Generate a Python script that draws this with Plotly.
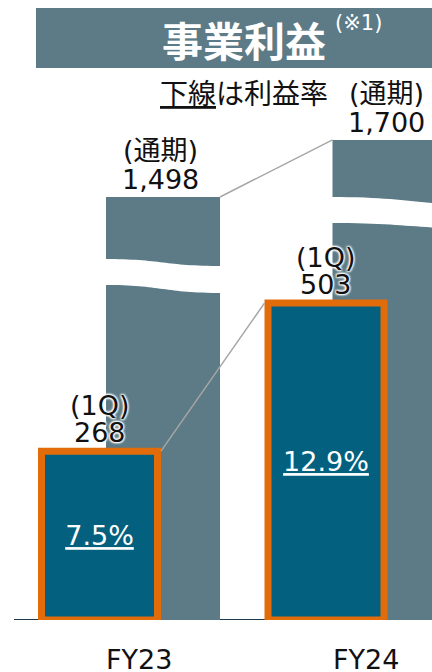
import plotly.graph_objects as go

# ---------------- data ----------------
categories = ["FY23", "FY24"]
q1_profit = [268, 503]          # 1Q business profit
fy_profit = [1498, 1700]        # full-year business profit
q1_margin = [7.5, 12.9]         # profit margin (%)
q1_label = "(1Q)"
fy_label = "(通期)"
title_text = "事業利益"
title_note = "(※1)"
subtitle = "<u>下線</u>は利益率"

# ---------------- styling / layout constants ----------------
W, H = 432, 672
PB = 620                 # pixel y of plot bottom (baseline)
FY_SCALE = 0.2824        # px per unit (full-year axis, broken scale)
Q1_SCALE = 0.63          # px per unit (1Q axis)
X_UNIT = 226.5           # px per category step
X0_PX = 99.5             # px of first category centre

GRAY = "#5C7B86"
TEAL = "#03617F"
ORANGE = "#E36C0A"
CONN = "#A6A6A6"
FONT = "DejaVu Sans, Noto Sans CJK JP"
CJK = "Noto Sans CJK JP"

q1_w = 116 / X_UNIT
fy_w = 114 / X_UNIT
fy_off = 6.5 / X_UNIT

x = list(range(len(categories)))

def py(p):
    return (PB - p) / PB

def fy_units(p):
    return (PB - p) / FY_SCALE

fig = go.Figure()

# full-year bars (background, broken scale)
fig.add_trace(go.Bar(
    x=x, y=fy_profit, width=[fy_w] * 2, offset=[fy_off] * 2,
    marker=dict(color=GRAY, line=dict(width=0)),
    yaxis="y", hoverinfo="skip",
))

# 1Q bars
fig.add_trace(go.Bar(
    x=x, y=q1_profit, width=[q1_w] * 2, offset=[-q1_w / 2] * 2,
    marker=dict(color=TEAL, line=dict(color=ORANGE, width=7)),
    text=[f"<u>{m}%</u>" for m in q1_margin],
    textposition="inside", insidetextanchor="middle", textangle=0,
    textfont=dict(family=FONT, size=27, color="white"),
    yaxis="y2", hoverinfo="skip",
))

shapes = []
# header band
shapes.append(dict(type="rect", xref="paper", yref="paper",
                   x0=36 / W, x1=1.0, y0=py(68), y1=py(8),
                   fillcolor=GRAY, line=dict(width=0), layer="below"))
# baseline
shapes.append(dict(type="line", xref="paper", yref="y",
                   x0=14 / W, x1=1.0, y0=0, y1=0,
                   line=dict(color="#1F3A4E", width=2), layer="below"))
# connectors
shapes.append(dict(type="line", xref="x", yref="y",
                   x0=x[0] + fy_off + fy_w, y0=fy_profit[0],
                   x1=x[1] + fy_off, y1=fy_profit[1],
                   line=dict(color=CONN, width=1.5), layer="above"))
edge = 3.5 / X_UNIT
shapes.append(dict(type="line", xref="x", yref="y2",
                   x0=x[0] + q1_w / 2 + edge, y0=q1_profit[0],
                   x1=x[1] - q1_w / 2 - edge, y1=q1_profit[1],
                   line=dict(color=CONN, width=1.5), layer="above"))

# wavy breaks on full-year bars (top-left, top-right, bottom-left, bottom-right px)
break_px = [(259, 266, 285, 293), (197, 205, 223, 229)]
for i, (tl, tr, bl, br) in enumerate(break_px):
    xl = x[i] + fy_off - 0.01
    xr = x[i] + fy_off + fy_w + (0.01 if i == 0 else 0.2)
    xm = (xl + xr) / 2
    yTL, yTR, yBL, yBR = fy_units(tl), fy_units(tr), fy_units(bl), fy_units(br)
    path = (f"M {xl},{yTL} C {xm},{yTL} {xm},{yTR} {xr},{yTR} "
            f"L {xr},{yBR} C {xm},{yBR} {xm},{yBL} {xl},{yBL} Z")
    shapes.append(dict(type="path", xref="x", yref="y", path=path,
                       fillcolor="white", line=dict(width=0), layer="above"))

ann = []
halo = "1px 1px 2px white, -1px -1px 2px white, 1px -1px 2px white, -1px 1px 2px white"
# full-year labels
for i, v in enumerate(fy_profit):
    cx = x[i] + fy_off + fy_w / 2 - 3 / X_UNIT
    ann.append(dict(x=cx, y=v, xref="x", yref="y", text=f"{v:,}",
                    showarrow=False, yanchor="middle", yshift=17,
                    font=dict(family=FONT, size=27, color="#111")))
    ann.append(dict(x=cx, y=v, xref="x", yref="y", text=fy_label,
                    showarrow=False, yanchor="middle", yshift=46,
                    font=dict(family=FONT, size=27, color="#111")))
# 1Q labels
for i, v in enumerate(q1_profit):
    ann.append(dict(x=x[i], y=v, xref="x", yref="y2", text=f"{v:,}",
                    showarrow=False, yanchor="middle", yshift=18.5,
                    font=dict(family=FONT, size=27, color="#111", shadow=halo)))
    ann.append(dict(x=x[i], y=v, xref="x", yref="y2", text=q1_label,
                    showarrow=False, yanchor="middle", yshift=45.5,
                    font=dict(family=FONT, size=27, color="#111", shadow=halo)))
# category labels
for i, c in enumerate(categories):
    ann.append(dict(x=x[i] + 0.176, y=py(659), xref="x", yref="paper", text=c,
                    showarrow=False, yanchor="middle",
                    font=dict(family=FONT, size=27, color="#111")))
# header
ann.append(dict(x=244 / W, y=py(39), xref="paper", yref="paper",
                text=f"<b>{title_text}</b>", showarrow=False,
                xanchor="center", yanchor="middle",
                font=dict(family=CJK, size=41, color="white")))
ann.append(dict(x=333 / W, y=py(23), xref="paper", yref="paper",
                text=title_note, showarrow=False,
                xanchor="left", yanchor="middle",
                font=dict(family=FONT, size=21, color="white")))
ann.append(dict(x=330 / W, y=py(95), xref="paper", yref="paper",
                text=subtitle, showarrow=False,
                xanchor="right", yanchor="middle",
                font=dict(family=FONT, size=28, color="#111")))

fig.update_layout(
    width=W, height=H,
    margin=dict(l=0, r=0, t=0, b=H - PB, pad=0),
    paper_bgcolor="white", plot_bgcolor="white",
    showlegend=False, barmode="overlay",
    xaxis=dict(range=[-X0_PX / X_UNIT, (W - X0_PX) / X_UNIT], visible=False,
               fixedrange=True),
    yaxis=dict(range=[0, PB / FY_SCALE], visible=False, fixedrange=True),
    yaxis2=dict(range=[0, PB / Q1_SCALE], visible=False, overlaying="y",
                fixedrange=True),
    shapes=shapes, annotations=ann,
)

fig.write_html(
    "out.html",
    config={"displayModeBar": False},
    post_script="document.body.style.margin='0px';"
                "document.documentElement.style.overflow='hidden';"
                "document.body.style.overflow='hidden';",
)
